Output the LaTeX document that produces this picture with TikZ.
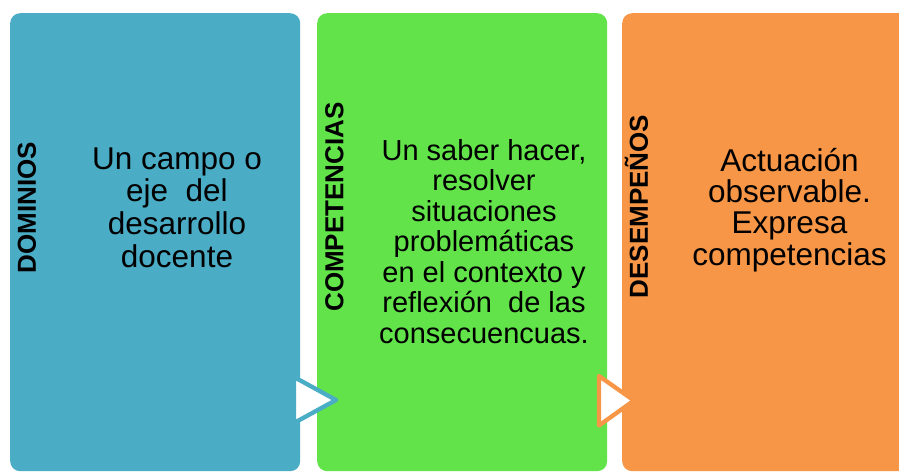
\documentclass[tikz,border=0pt]{standalone}
\usepackage{fontspec}
\setmainfont{Liberation Sans}
\usepackage{xcolor}
\definecolor{dombl}{HTML}{4BACC6}
\definecolor{compgr}{HTML}{62E34A}
\definecolor{desor}{HTML}{F79646}
\begin{document}
\begin{tikzpicture}[x=1pt,y=-1pt,line join=round]
\tikzstyle{panel}=[draw=none,rounded corners=10pt,inner sep=0pt,minimum width=290pt,minimum height=458pt,anchor=north west]
\tikzstyle{title}=[rotate=90,inner sep=0pt,text height=18.7pt,text depth=0pt,font=\fontsize{26}{28}\selectfont\bfseries]
\tikzstyle{desc}=[align=center,inner sep=0pt,anchor=north]
\tikzstyle{pointer}=[fill=white,line width=4.3pt]
\useasboundingbox (0,0) rectangle (899,472);
\clip (0,0) rectangle (899,472);
\node[panel,fill=dombl]  (dom)  at (10,13)  {};
\node[panel,fill=compgr] (comp) at (317,13) {};
\node[panel,fill=desor]  (des)  at (622,13) {};

\node[title] (domt)  at (26.5,207.5) {DOMINIOS};
\node[title] (compt) at (334,207)    {COMPETENCIAS};
\node[title] (dest)  at (638.5,206.5) {DESEMPEÑOS};

\node[desc,font=\fontsize{31.5}{32.7}\selectfont] (domd) at (177,147.4)
  {Un campo o\\eje\ \ del\\desarrollo\\docente};
\node[desc,font=\fontsize{29}{30.5}\selectfont] (compd) at (484,139)
  {Un saber hacer,\\resolver\\situaciones\\problemáticas\\en el contexto y\\reflexión\ \ de las\\consecuencuas.};
\node[desc,font=\fontsize{31.5}{31.4}\selectfont] (desd) at (789.5,147.6)
  {Actuación\\observable.\\Expresa\\competencias};

\coordinate (p1a) at (294,377);
\coordinate (p1b) at (294,423);
\coordinate (p1c) at (336,400);
\coordinate (p2a) at (599,376);
\coordinate (p2b) at (599,425.5);
\coordinate (p2c) at (634,400.5);
\draw[pointer,draw=dombl] (p1a) -- (p1c) -- (p1b) -- cycle;
\draw[pointer,draw=desor] (p2a) -- (p2c) -- (p2b) -- cycle;
\end{tikzpicture}
\end{document}
